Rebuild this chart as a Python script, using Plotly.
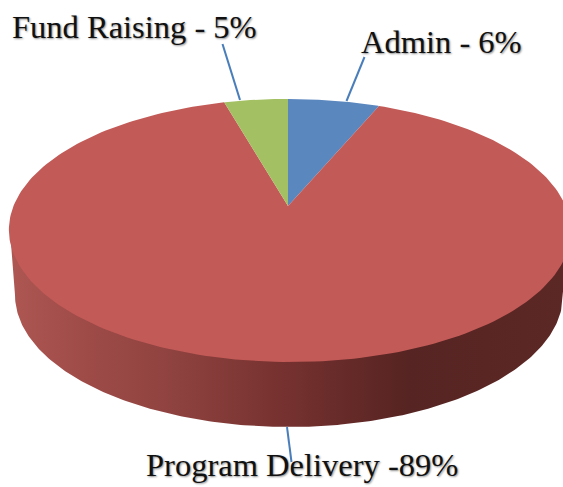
import numpy as np
import plotly.graph_objects as go

# --- data ---
categories = ["Admin", "Program Delivery", "Fund Raising"]
values = [6.3, 89.3, 4.4]
labels = ["Admin - 6%", "Program Delivery -89%", "Fund Raising - 5%"]
colors = ["#5B87BF", "#C25A57", "#A3C063"]

# --- styling / layout ---
W, H = 563, 487
APEX = (288.0, 206.0)
RIM_SHIFT = 1.5
A, C, K = 276.0, 127.0, 0.186     # projective squash of the pie disc
TOP = (289.5, 230.5, 279.5, 127.0)  # upper wall edge, tucked under the face
BOT = (289.0, 295.0, 274.0, 132.0)
LABEL_POS = [(359, 42), (144, 465), (10, 27)]
LEADERS = [[(364.5, 57), (346.5, 101)], [(287, 427), (291.5, 462)], [(222.5, 44), (240, 100)]]
FONT = "Liberation Serif"
FSIZE = 32.5
WALL_SCALE = [[0, "#AE5753"], [0.12, "#A04C49"], [0.3, "#8E423F"], [0.5, "#75312F"],
              [0.72, "#562422"], [1, "#5C2826"]]


def rim(deg):
    t = np.radians(deg)
    u, v = np.sin(t), np.cos(t)
    d = 1 + K * v
    return APEX[0] + RIM_SHIFT * (1 - v) + A * u / d, APEX[1] - C * v / d


def ell(e, t):
    return e[0] + e[2] * np.cos(t), e[1] + e[3] * np.sin(t)


fig = go.Figure()

# side wall
ts = np.linspace(np.pi, 0, 240)
x1, y1 = ell(TOP, ts)
ts2 = np.linspace(0, np.pi, 240)
x2, y2 = ell(BOT, ts2)
fig.add_trace(go.Scatter(
    x=np.r_[x1, x2], y=np.r_[y1, y2], mode="lines", line=dict(width=0), fill="toself",
    fillgradient=dict(type="horizontal", colorscale=WALL_SCALE, start=10, stop=563),
    hoverinfo="skip", showlegend=False))

# top face slices
start = 0.0
total = sum(values)
for name, val, col in zip(categories, values, colors):
    end = start + val / total * 360
    ang = np.linspace(start, end, 240)
    rx, ry = rim(ang)
    fig.add_trace(go.Scatter(
        x=np.r_[APEX[0], rx, APEX[0]], y=np.r_[APEX[1], ry, APEX[1]], mode="lines",
        line=dict(width=0), fill="toself", fillcolor=col, name=name,
        hoverinfo="name", showlegend=False))
    start = end

# leader lines
for seg in LEADERS:
    fig.add_trace(go.Scatter(
        x=[p[0] for p in seg], y=[p[1] for p in seg], mode="lines",
        line=dict(color="#4A7EBB", width=2), hoverinfo="skip", showlegend=False))

# labels
for text, (lx, ly) in zip(labels, LABEL_POS):
    fig.add_annotation(
        x=lx, y=ly, text=text, showarrow=False, xanchor="left", yanchor="middle",
        xshift=0, font=dict(family=FONT, size=FSIZE, color="#111111",
                            shadow="1px 1px 2px rgba(0,0,0,0.45)"))

fig.update_layout(
    width=W, height=H, margin=dict(l=0, r=0, t=0, b=0),
    paper_bgcolor="white", plot_bgcolor="white", showlegend=False,
    xaxis=dict(range=[0, W], visible=False, fixedrange=True),
    yaxis=dict(range=[H, 0], visible=False, fixedrange=True),
)
fig.write_html("out.html", config=dict(displayModeBar=False),
               post_script="document.body.style.margin='0';document.body.style.overflow='hidden';")
